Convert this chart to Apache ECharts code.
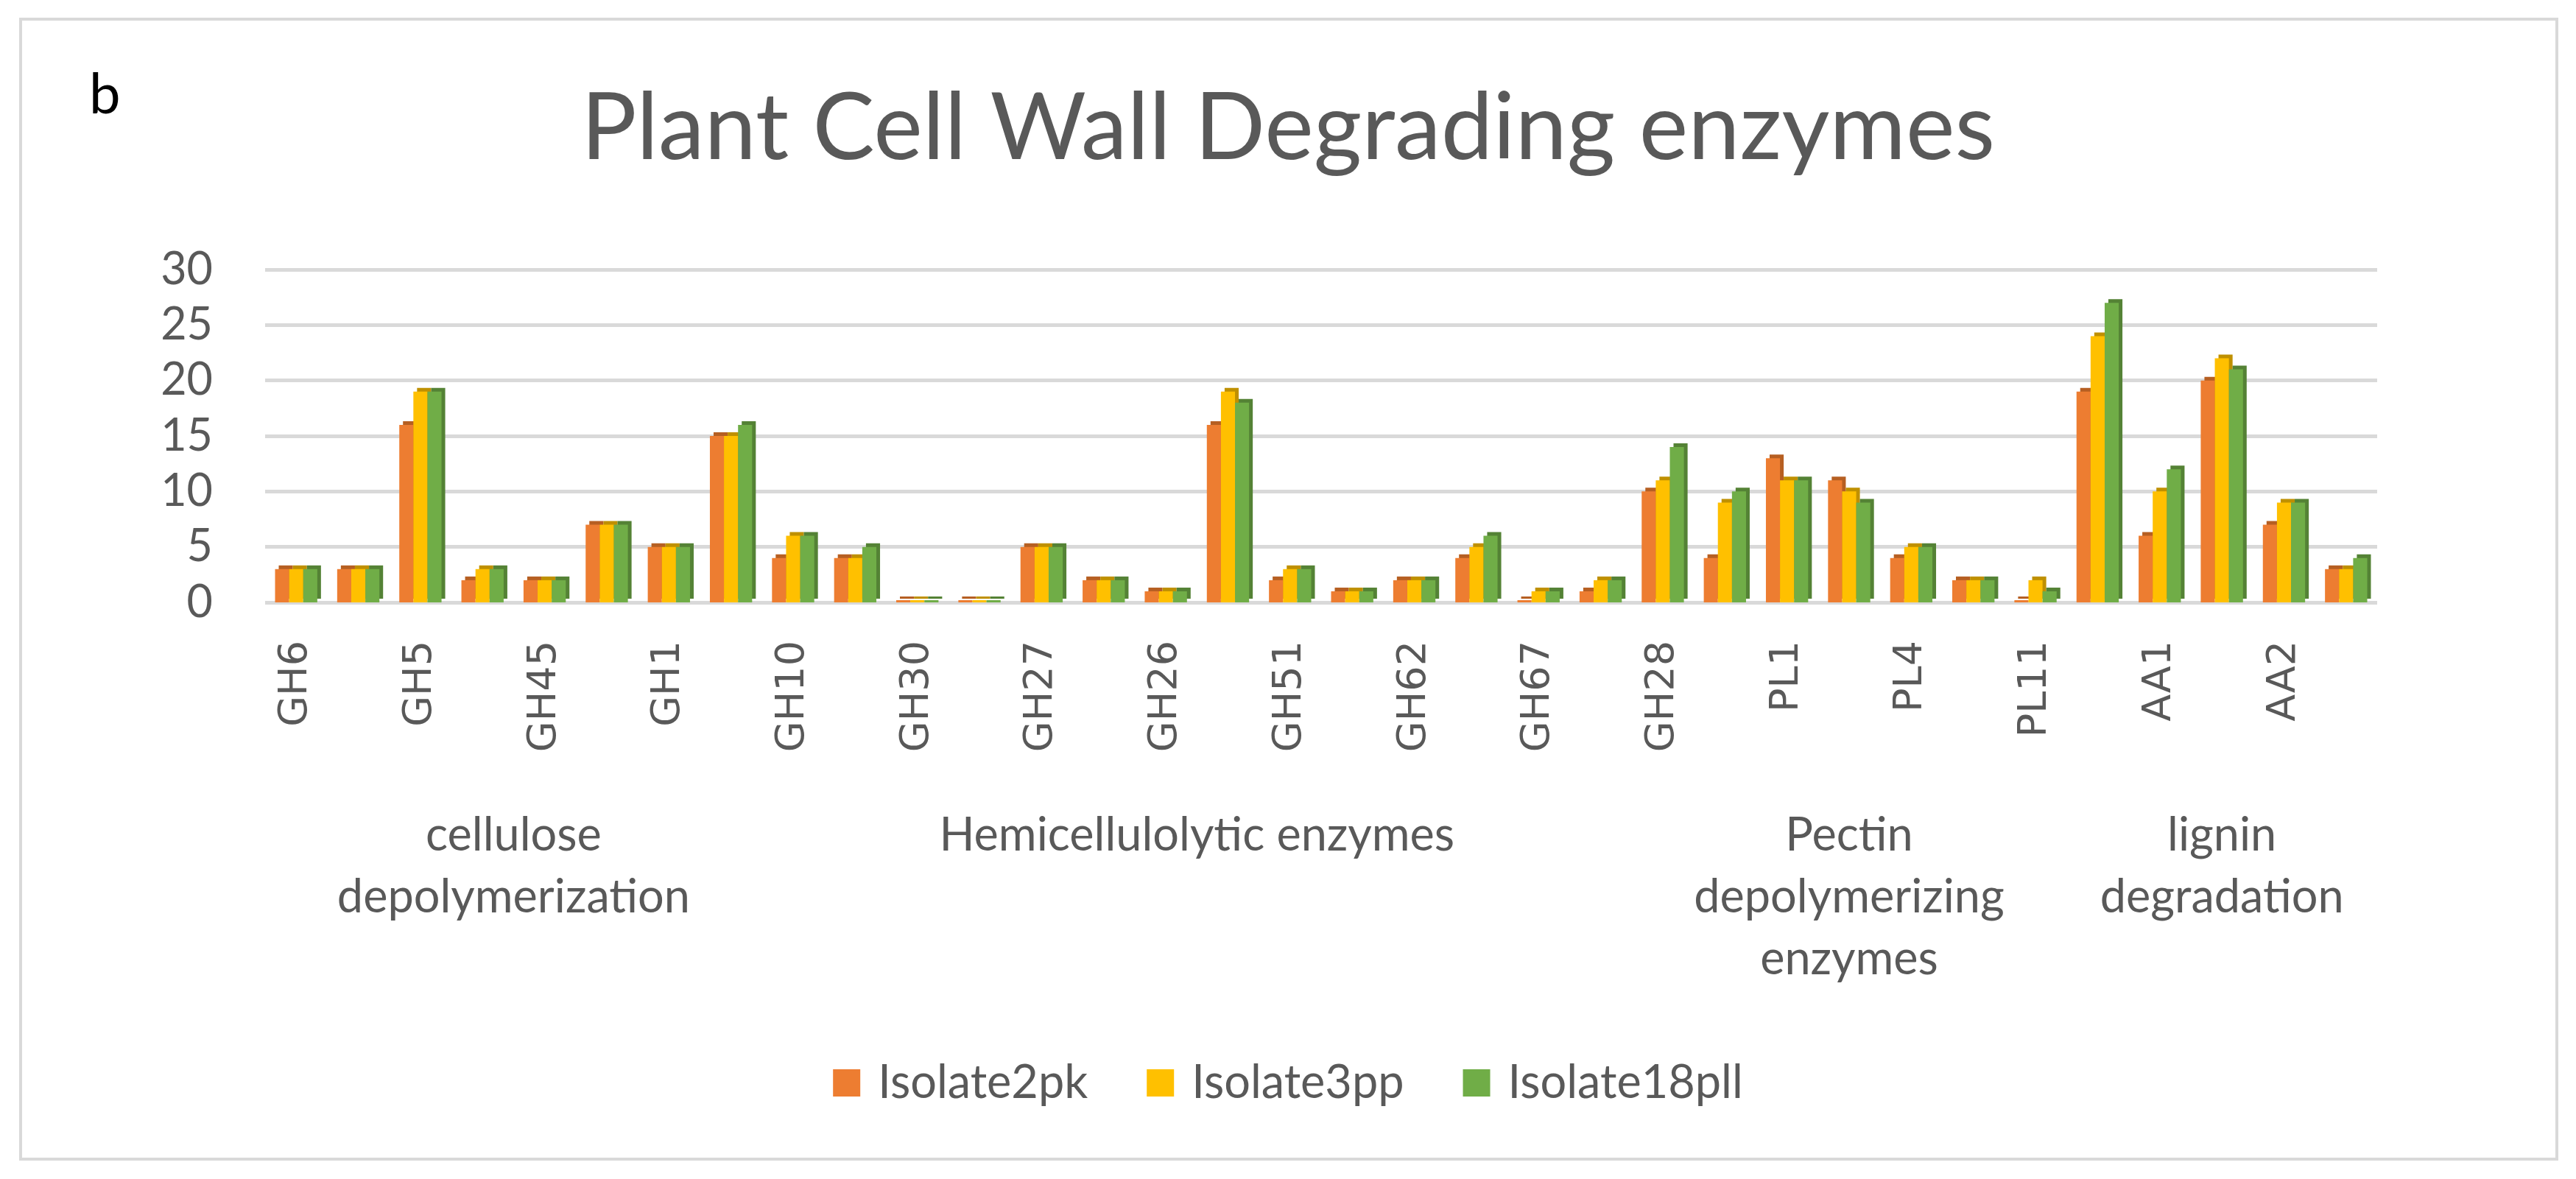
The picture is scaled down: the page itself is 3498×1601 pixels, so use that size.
<!DOCTYPE html>
<html>
<head>
<meta charset="utf-8">
<title>Plant Cell Wall Degrading enzymes</title>
<script src="https://cdn.jsdelivr.net/npm/echarts@6/dist/echarts.min.js"></script>
<style>
  html, body { margin: 0; padding: 0; background: #fff; }
  #frame { position: absolute; left: 26px; top: 24px; width: 3440px; height: 1544px; border: 4px solid #d9d9d9; }
  #chart { position: absolute; left: 0; top: 0; width: 3498px; height: 1601px; }
</style>
</head>
<body>
<div id="frame"></div>
<div id="chart"></div>
<script>
// enzyme families (only every other one is labelled on the original axis)
var families = ['GH6', '', 'GH5', '', 'GH45', '', 'GH1', '', 'GH10', '', 'GH30', '', 'GH27', '', 'GH26', '',
    'GH51', '', 'GH62', '', 'GH67', '', 'GH28', '', 'PL1', '', 'PL4', '', 'PL11', '', 'AA1', '', 'AA2', ''];

var isolate2pk   = [3, 3, 16, 2, 2, 7, 5, 15, 4, 4, 0, 0, 5, 2, 1, 16, 2, 1, 2, 4, 0, 1, 10, 4, 13, 11, 4, 2, 0, 19, 6, 20, 7, 3];
var isolate3pp   = [3, 3, 19, 3, 2, 7, 5, 15, 6, 4, 0, 0, 5, 2, 1, 19, 3, 1, 2, 5, 1, 2, 11, 9, 11, 10, 5, 2, 2, 24, 10, 22, 9, 3];
var isolate18pll = [3, 3, 19, 3, 2, 7, 5, 16, 6, 5, 0, 0, 5, 2, 1, 18, 3, 1, 2, 6, 1, 2, 14, 10, 11, 9, 5, 2, 1, 27, 12, 21, 9, 4];

var seriesNames = ['Isolate2pk', 'Isolate3pp', 'Isolate18pll'];
var seriesValues = [isolate2pk, isolate3pp, isolate18pll];

// outer level of the category axis
var groupNames = ['cellulose\ndepolymerization', 'Hemicellulolytic enzymes', 'Pectin\ndepolymerizing\nenzymes', 'lignin\ndegradation'];
var groupSizes = [8, 14, 7, 5];

var yMin = 0, yMax = 30, yStep = 5;

var colors = ['#ED7D31', '#FFC000', '#70AD47'];
var sideColors = ['#B65F22', '#BF9000', '#548235'];
var textColor = '#595959';

var groupCenters = [];
var acc = 0;
groupSizes.forEach(function (n) {
    groupCenters.push(acc + n / 2);
    acc += n;
});

var myChart = echarts.init(document.getElementById('chart'));

var option = {
    animation: false,
    title: [
        {
            text: 'b',
            left: 116,
            top: 86,
            textStyle: { fontFamily: 'Lato', fontWeight: 'normal', fontSize: 76, color: '#000' }
        },
        {
            text: 'Plant Cell Wall Degrading enzymes',
            left: 'center',
            top: 107,
            textStyle: { fontFamily: 'Lato', fontWeight: 'normal', fontSize: 126, color: textColor }
        }
    ],
    legend: {
        data: seriesNames,
        left: 'center',
        top: 1434,
        icon: 'rect',
        itemWidth: 37,
        itemHeight: 37,
        itemGap: 80,
        itemStyle: { shadowColor: 'transparent', shadowBlur: 0, shadowOffsetX: 0, shadowOffsetY: 0 },
        textStyle: { fontFamily: 'Lato', fontSize: 63, color: textColor, padding: [0, 0, 0, 19] }
    },
    grid: {
        left: 360,
        right: 270,
        top: 366,
        bottom: 783
    },
    xAxis: [
        {
            type: 'category',
            data: families,
            axisLine: { show: false },
            axisTick: { show: false },
            axisLabel: {
                interval: 0,
                rotate: 90,
                margin: 52,
                fontFamily: 'DejaVu Sans',
                fontSize: 54,
                color: textColor
            }
        },
        {
            type: 'value',
            min: 0,
            max: families.length,
            position: 'bottom',
            axisLine: { show: false },
            axisTick: { show: false },
            splitLine: { show: false },
            axisLabel: {
                customValues: groupCenters,
                margin: 275,
                fontFamily: 'Lato',
                fontSize: 63,
                lineHeight: 84,
                color: textColor,
                formatter: function (v) {
                    var i = groupCenters.indexOf(v);
                    return i >= 0 ? groupNames[i] : '';
                }
            }
        }
    ],
    yAxis: {
        type: 'value',
        min: yMin,
        max: yMax,
        interval: yStep,
        axisLine: { show: false },
        axisTick: { show: false },
        axisLabel: {
            margin: 71,
            fontFamily: 'Lato',
            fontSize: 61,
            color: textColor,
            padding: [30, 0, 0, 0]
        },
        splitLine: { lineStyle: { color: '#D9D9D9', width: 5 } }
    },
    series: seriesNames.map(function (name, i) {
        return {
            name: name,
            type: 'bar',
            xAxisIndex: 0,
            data: seriesValues[i],
            barGap: '0%',
            barCategoryGap: '32%',
            barMinHeight: 3,
            itemStyle: {
                color: colors[i],
                shadowColor: sideColors[i],
                shadowBlur: 0,
                shadowOffsetX: 5,
                shadowOffsetY: -5
            }
        };
    })
};

myChart.setOption(option);
</script>
</body>
</html>
